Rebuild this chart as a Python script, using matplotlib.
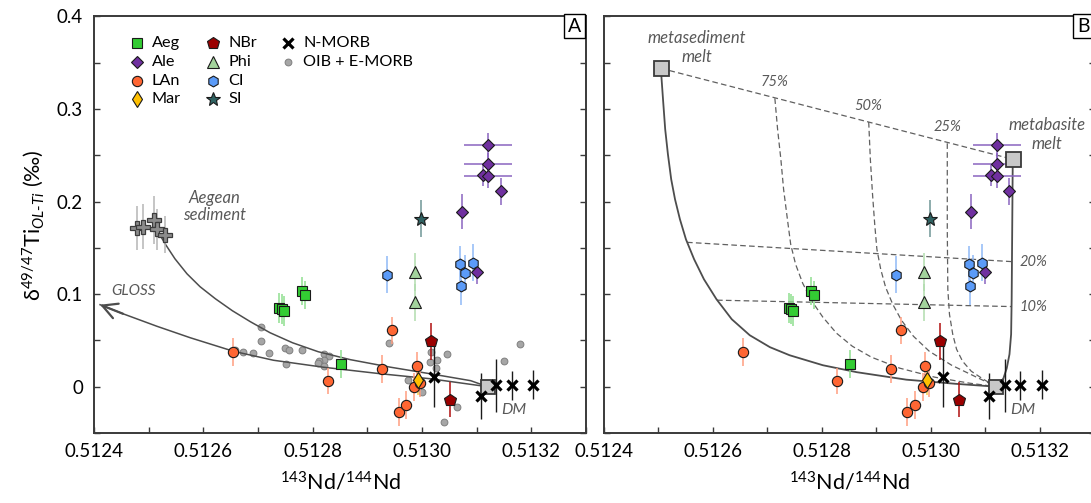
import matplotlib
matplotlib.use("Agg")
import matplotlib.pyplot as plt
from matplotlib.ticker import FixedLocator, MultipleLocator

plt.rcParams["font.family"] = ["Lato", "DejaVu Sans"]
plt.rcParams["mathtext.fontset"] = "custom"
plt.rcParams["mathtext.rm"] = "Lato"
plt.rcParams["mathtext.it"] = "Lato:italic"
plt.rcParams["mathtext.bf"] = "Lato:bold"

# ---------------- samples: 143Nd/144Nd, d49/47Ti (permil), 2SD ----------------
aeg_nd = [0.512739, 0.512743, 0.512748, 0.512780, 0.512785, 0.512852]
aeg_ti = [0.0853, 0.0842, 0.0820, 0.1035, 0.0993, 0.0245]
aeg_err = [0.016, 0.016, 0.016, 0.015, 0.015, 0.015]

ale_nd = [0.513121, 0.513121, 0.513111, 0.513121, 0.513144, 0.513073, 0.513100]
ale_ti = [0.261, 0.241, 0.229, 0.228, 0.211, 0.189, 0.124]
ale_err = [0.0135, 0.012, 0.012, 0.013, 0.015, 0.019, 0.013]
ale_nd_err = [0.000044, 0.000044, 0.0, 0.000044, 0.0, 0.0, 0.0]

lan_nd = [0.512655, 0.512828, 0.512926, 0.512945, 0.512990, 0.512985, 0.512997, 0.512957, 0.512971]
lan_ti = [0.0375, 0.0065, 0.0193, 0.0608, 0.0227, 0.0000, 0.0040, -0.0270, -0.0200]
lan_err = [0.015, 0.014, 0.015, 0.015, 0.015, 0.015, 0.015, 0.015, 0.015]

mar_nd = [0.512993]
mar_ti = [0.0075]
mar_err = [0.016]

nbr_nd = [0.513016, 0.513051]
nbr_ti = [0.0490, -0.0140]
nbr_err = [0.020, 0.019]

phi_nd = [0.512987, 0.512987]
phi_ti = [0.1240, 0.0915]
phi_err = [0.021, 0.020]

ci_nd = [0.512936, 0.513069, 0.513093, 0.513078, 0.513072]
ci_ti = [0.1209, 0.1328, 0.1342, 0.1228, 0.1083]
ci_err = [0.020, 0.019, 0.020, 0.019, 0.020]

si_nd = [0.512998]
si_ti = [0.1814]
si_err = [0.020]

nmorb_nd = [0.513022, 0.513107, 0.513136, 0.513164, 0.513203]
nmorb_ti = [0.0108, -0.0097, 0.0014, 0.0014, 0.0022]
nmorb_err = [0.033, 0.025, 0.029, 0.016, 0.016]

oib_nd = [0.512658, 0.512672, 0.512691, 0.512720, 0.512706, 0.512706, 0.512750,
          0.512756, 0.512780, 0.512751, 0.512820, 0.512830, 0.512820, 0.512811,
          0.512810, 0.512820, 0.512940, 0.513017, 0.513028, 0.513046, 0.513015,
          0.513025, 0.512974, 0.513000, 0.513064, 0.513040, 0.513150, 0.513179]
oib_ti = [0.040, 0.037, 0.0364, 0.0364, 0.0645, 0.0497, 0.0418,
          0.040, 0.0392, 0.0245, 0.0356, 0.0327, 0.029, 0.0273,
          0.0256, 0.022, 0.047, 0.037, 0.029, 0.0353, 0.0262,
          0.020, 0.0076, -0.006, -0.022, -0.038, 0.0273, 0.046]

aegsed_nd = [0.512479, 0.512489, 0.512510, 0.512515, 0.512529]
aegsed_ti = [0.1713, 0.1730, 0.1800, 0.1700, 0.1640]
aegsed_err = [0.024, 0.024, 0.026, 0.022, 0.020]

# ---------------- end-members ----------------
dm_nd, dm_ti = 0.51312, 0.0
metased_nd, metased_ti = 0.512505, 0.344
metabas_nd, metabas_ti = 0.513150, 0.2457

# ---------------- mixing curves ----------------
mixA_sed_nd = [0.512515, 0.512530, 0.512548, 0.512570, 0.512594, 0.512622, 0.512653,
               0.512686, 0.512722, 0.512763, 0.512810, 0.512869, 0.512942, 0.513025,
               0.513089, 0.51312]
mixA_sed_ti = [0.1695, 0.1544, 0.1382, 0.1220, 0.1080, 0.0950, 0.0821,
               0.0702, 0.0583, 0.0475, 0.0378, 0.0292, 0.0211, 0.0130,
               0.0065, 0.0]

mixA_gloss_nd = [0.512411, 0.512453, 0.512515, 0.512576, 0.512655, 0.512728,
                 0.512819, 0.512924, 0.513015, 0.51312]
mixA_gloss_ti = [0.0886, 0.0788, 0.0653, 0.0529, 0.0383, 0.0286,
                 0.0211, 0.0140, 0.0086, 0.0]

mixB_sed_nd = [0.512505, 0.512509, 0.512513, 0.512518, 0.512524, 0.512531, 0.512540,
               0.512551, 0.512566, 0.512584, 0.512607, 0.512635, 0.512668, 0.512705,
               0.512741, 0.512802, 0.512864, 0.512955, 0.513046, 0.51312]
mixB_sed_ti = [0.3439, 0.3105, 0.2781, 0.2511, 0.2241, 0.2025, 0.1809,
               0.1593, 0.1377, 0.1161, 0.0945, 0.0729, 0.0556, 0.0427,
               0.0340, 0.0232, 0.0157, 0.0076, 0.0031, 0.0]

mixB_bas_nd = [0.513150, 0.513149, 0.513148, 0.513147, 0.513144, 0.513139,
               0.513133, 0.513126, 0.51312]
mixB_bas_ti = [0.2457, 0.1701, 0.0945, 0.0567, 0.0351, 0.0200,
               0.0092, 0.0032, 0.0]

mix75_nd = [0.512714, 0.512719, 0.512725, 0.512730, 0.512737, 0.512743, 0.512752,
            0.512765, 0.512782, 0.512802, 0.512827, 0.512856, 0.512891, 0.512943,
            0.513007, 0.513071, 0.51312]
mix75_ti = [0.3116, 0.2781, 0.2457, 0.2133, 0.1809, 0.1539, 0.1323,
            0.1118, 0.0923, 0.0751, 0.0578, 0.0437, 0.0319, 0.0200,
            0.0103, 0.0038, 0.0]
mix50_nd = [0.512886, 0.512889, 0.512893, 0.512897, 0.512901, 0.512908, 0.512917,
            0.512930, 0.512946, 0.512968, 0.512997, 0.513038, 0.513080, 0.51312]
mix50_ti = [0.2860, 0.2457, 0.2079, 0.1755, 0.1485, 0.1269, 0.1074,
            0.0891, 0.0718, 0.0545, 0.0383, 0.0232, 0.0113, 0.0]
mix25_nd = [0.513030, 0.513030, 0.513031, 0.513034, 0.513040, 0.513047, 0.513058,
            0.513074, 0.513096, 0.51312]
mix25_ti = [0.2630, 0.1701, 0.1053, 0.0783, 0.0567, 0.0405, 0.0275,
            0.0167, 0.0081, 0.0]
frac_labels = ["75%", "50%", "25%"]

melt20_nd = [0.512553, 0.513147]
melt20_ti = [0.1560, 0.1352]
melt10_nd = [0.512608, 0.513147]
melt10_ti = [0.0935, 0.0866]
melt_labels = ["20%", "10%"]

# ---------------- axes ticks ----------------
nd_ticks = [0.5124, 0.5126, 0.5128, 0.5130, 0.5132]
nd_tick_labels = ["0.5124", "0.5126", "0.5128", "0.5130", "0.5132"]
ti_ticks = [0.0, 0.1, 0.2, 0.3, 0.4]
ti_tick_labels = ["0", "0.1", "0.2", "0.3", "0.4"]

EDGE = "#3a3a3a"
NOTE = "#595959"
CURVE = "#4d4d4d"

groups = [
    dict(label="Aeg", nd=aeg_nd, ti=aeg_ti, err=aeg_err, marker="s", ms=6.8,
         fc="#33cc33", bar="#8fdf8f"),
    dict(label="Ale", nd=ale_nd, ti=ale_ti, err=ale_err, xerr=ale_nd_err, marker="D", ms=6.0,
         fc="#7030a0", bar="#8a64c0"),
    dict(label="LAn", nd=lan_nd, ti=lan_ti, err=lan_err, marker="o", ms=7.4,
         fc="#ff6633", bar="#ff9e80"),
    dict(label="Mar", nd=mar_nd, ti=mar_ti, err=mar_err, marker="d", ms=8.2,
         fc="#ffc000", bar="#ffd24d"),
    dict(label="NBr", nd=nbr_nd, ti=nbr_ti, err=nbr_err, marker="p", ms=8.6,
         fc="#9b0000", bar="#b01010"),
    dict(label="Phi", nd=phi_nd, ti=phi_ti, err=phi_err, marker="^", ms=8.6,
         fc="#a3d39c", bar="#b2dcae"),
    dict(label="CI", nd=ci_nd, ti=ci_ti, err=ci_err, marker="h", ms=7.8,
         fc="#5b9bf8", bar="#8fb9f7"),
    dict(label="SI", nd=si_nd, ti=si_ti, err=si_err, marker="*", ms=10.5,
         fc="#2f6262", bar="#6f9696"),
]


def draw_samples(ax):
    for g in groups:
        ax.errorbar(g["nd"], g["ti"], yerr=g["err"], xerr=g.get("xerr"), fmt="none",
                    ecolor=g["bar"], elinewidth=1.1, capsize=0, zorder=3)
        ax.plot(g["nd"], g["ti"], ls="none", marker=g["marker"], ms=g["ms"],
                mfc=g["fc"], mec="#1a1a1a", mew=0.8, zorder=4)
    ax.errorbar(nmorb_nd, nmorb_ti, yerr=nmorb_err, fmt="none", ecolor="#1a1a1a",
                elinewidth=1.0, capsize=0, zorder=3)
    ax.plot(nmorb_nd, nmorb_ti, ls="none", marker="x", ms=6.8, mec="black",
            mew=2.3, zorder=5)
    ax.plot([dm_nd], [dm_ti], ls="none", marker="s", ms=10.5, mfc="#c8c8c8",
            mec=EDGE, mew=1.3, zorder=4.5)
    ax.text(0.513168, -0.025, "DM", color=NOTE, fontsize=11.5, style="italic",
            ha="center", va="center")


def style_axes(ax, panel, ylabels):
    ax.set_xlim(0.5124, 0.5133)
    ax.set_ylim(-0.05, 0.4)
    ax.xaxis.set_major_locator(FixedLocator(nd_ticks))
    ax.set_xticklabels(nd_tick_labels)
    ax.xaxis.set_minor_locator(MultipleLocator(0.0001))
    ax.yaxis.set_major_locator(FixedLocator(ti_ticks))
    ax.yaxis.set_minor_locator(MultipleLocator(0.05))
    if ylabels:
        ax.set_yticklabels(ti_tick_labels)
    ax.tick_params(which="both", direction="in", top=False, right=True, length=4,
                   width=1.0, color=EDGE, labelsize=13.5, labelleft=ylabels)
    ax.tick_params(axis="x", pad=7)
    ax.tick_params(axis="y", pad=8)
    for s in ax.spines.values():
        s.set_color(EDGE)
        s.set_linewidth(1.4)
    ax.set_xlabel(r"$^{143}$Nd/$^{144}$Nd", fontsize=15.5, labelpad=8)
    ax.text(0.9766, 0.976, panel, transform=ax.transAxes, fontsize=14,
            ha="center", va="center",
            bbox=dict(boxstyle="square,pad=0.18", fc="white", ec="black", lw=1.0))


fig = plt.figure(figsize=(10.91, 5.03), dpi=100)
axA = fig.add_axes([0.0862, 0.1392, 0.4510, 0.8280])
axB = fig.add_axes([0.5532, 0.1392, 0.4501, 0.8280])

# ---------------- panel A ----------------
axA.plot(oib_nd, oib_ti, ls="none", marker="o", ms=4.9, mfc="#a6a6a6",
         mec="#7f7f7f", mew=0.7, zorder=2)
axA.plot(mixA_sed_nd, mixA_sed_ti, color=CURVE, lw=1.1, zorder=2.5)
axA.plot(mixA_gloss_nd, mixA_gloss_ti, color=CURVE, lw=1.1, zorder=2.5)
axA.annotate("", xy=(mixA_gloss_nd[0], mixA_gloss_ti[0]),
             xytext=(mixA_gloss_nd[1], mixA_gloss_ti[1]),
             arrowprops=dict(arrowstyle="->,head_length=0.75,head_width=0.4",
                             color=CURVE, lw=1.6, shrinkA=0, shrinkB=0,
                             mutation_scale=14))
axA.errorbar(aegsed_nd, aegsed_ti, yerr=aegsed_err, fmt="none", ecolor="#b5b5b5",
             elinewidth=1.1, capsize=0, zorder=3)
axA.plot(aegsed_nd, aegsed_ti, ls="none", marker="P", ms=10, mfc="#8c8c8c",
         mec="#3c3c3c", mew=0.9, zorder=4)
draw_samples(axA)
axA.text(0.512620, 0.1947, "Aegean\nsediment", color=NOTE, fontsize=12,
         style="italic", ha="center", va="center", linespacing=1.15)
axA.text(0.512473, 0.1029, "GLOSS", color=NOTE, fontsize=11, style="italic",
         ha="center", va="center")
style_axes(axA, "A", True)
axA.set_ylabel("δ$^{49/47}$Ti$_{OL\\text{-}Ti}$ (‰)", fontsize=15.5, labelpad=8)

# legend laid out in three columns
legend_cols = [["Aeg", "Ale", "LAn", "Mar"], ["NBr", "Phi", "CI", "SI"],
               ["N-MORB", "OIB + E-MORB"]]
col_x = [0.0868, 0.2425, 0.395]
row_y = [0.9357, 0.8910, 0.8463, 0.8016]
styles = {g["label"]: dict(marker=g["marker"], ms=g["ms"], mfc=g["fc"],
                           mec="#1a1a1a", mew=0.8) for g in groups}
styles["N-MORB"] = dict(marker="x", ms=6.5, mec="black", mew=2.3)
styles["OIB + E-MORB"] = dict(marker="o", ms=4.9, mfc="#a6a6a6", mec="#7f7f7f", mew=0.7)
for cx, names in zip(col_x, legend_cols):
    for ry, name in zip(row_y, names):
        axA.plot([cx], [ry], ls="none", transform=axA.transAxes, clip_on=False,
                 zorder=6, **styles[name])
        axA.text(cx + 0.0305, ry, name, transform=axA.transAxes, fontsize=11.7,
                 ha="left", va="center")

# ---------------- panel B ----------------
axB.plot(mixB_sed_nd, mixB_sed_ti, color=CURVE, lw=1.3, zorder=2.5)
axB.plot(mixB_bas_nd, mixB_bas_ti, color=CURVE, lw=1.3, zorder=2.5)
dash = (0, (4.5, 2.6))
axB.plot([metased_nd, metabas_nd], [metased_ti, metabas_ti], color="#606060",
         lw=0.9, ls=dash, zorder=2.4)
for nd, ti, lbl in zip([mix75_nd, mix50_nd, mix25_nd], [mix75_ti, mix50_ti, mix25_ti],
                       frac_labels):
    axB.plot(nd, ti, color="#606060", lw=0.9, ls=dash, zorder=2.4)
    axB.annotate(lbl, (nd[0], ti[0]), xytext=(0, 11.5), textcoords="offset points",
                 ha="center", va="center", fontsize=10.5, style="italic", color=NOTE)
for nd, ti, lbl in zip([melt20_nd, melt10_nd], [melt20_ti, melt10_ti], melt_labels):
    axB.plot(nd, ti, color="#606060", lw=0.9, ls=dash, zorder=2.4)
    axB.annotate(lbl, (nd[-1], ti[-1]), xytext=(6, 0), textcoords="offset points",
                 ha="left", va="center", fontsize=10.5, style="italic", color=NOTE)
axB.plot([metased_nd, metabas_nd], [metased_ti, metabas_ti], ls="none", marker="s",
         ms=10.8, mfc="#c8c8c8", mec=EDGE, mew=1.3, zorder=4.5)
axB.text(0.512571, 0.3667, "metasediment\nmelt", color=NOTE, fontsize=12,
         style="italic", ha="center", va="center", linespacing=1.25)
axB.text(0.513212, 0.2727, "metabasite\nmelt", color=NOTE, fontsize=12,
         style="italic", ha="center", va="center", linespacing=1.25)
draw_samples(axB)
style_axes(axB, "B", False)

fig.savefig("out.png", dpi=100)
